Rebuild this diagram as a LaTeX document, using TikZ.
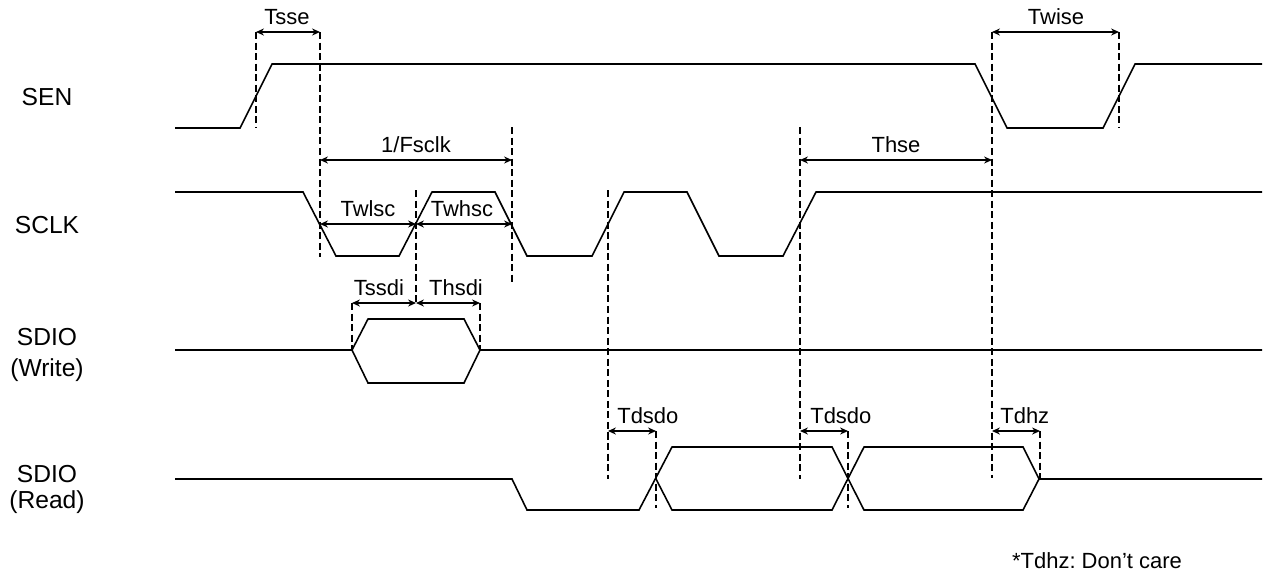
\documentclass[tikz,border=0pt]{standalone}
\usepackage{fontspec}
\setmainfont{Liberation Sans}
\usetikzlibrary{arrows.meta}
\frenchspacing

\begin{document}
\begin{tikzpicture}[x=0.02cm,y=-0.02cm,
	wave/.style={line width=0.9pt,line join=miter},
	guide/.style={line width=0.6pt,dash pattern=on 4pt off 2pt},
	dim/.style={{Stealth[length=4.5pt,width=4pt]}-{Stealth[length=4.5pt,width=4pt]},line width=0.7pt},
	lbl/.style={anchor=base,inner sep=0pt,font=\fontsize{12.5}{14}\selectfont},
	sig/.style={anchor=base,inner sep=0pt,font=\fontsize{14}{17}\selectfont}]

	\useasboundingbox (0,0) rectangle (1266,576);

	% signal names
	\node[sig] (sen) at (47,105) {SEN};
	\node[sig] (sclk) at (47,233) {SCLK};
	\node[sig] (sdiow) at (47,345) {SDIO};
	\node[sig] (sdiow2) at (47,376) {(Write)};
	\node[sig] (sdior) at (47,482) {SDIO};
	\node[sig] (sdior2) at (47,508) {(Read)};

	% waveforms
	\draw[wave] (175,128) -- (240,128) -- (272,64) -- (975,64) -- (1007,128)
		-- (1103,128) -- (1135,64) -- (1262,64);
	\draw[wave] (175,192) -- (303,192) -- (336,256) -- (399,256) -- (432,192)
		-- (495,192) -- (527,256) -- (592,256) -- (624,192) -- (687,192)
		-- (719,256) -- (783,256) -- (816,192) -- (1262,192);
	\draw[wave] (175,350) -- (352,350) -- (368,319) -- (464,319) -- (480,350) -- (1262,350);
	\draw[wave] (352,350) -- (368,383) -- (464,383) -- (480,350);
	\draw[wave] (175,479) -- (512,479) -- (527,510) -- (639,510) -- (672,447)
		-- (832,447) -- (864,510) -- (1023,510) -- (1039,479) -- (1262,479);
	\draw[wave] (656,479) -- (672,510) -- (832,510) -- (864,447) -- (1023,447) -- (1039,479);

	% dashed guides
	\foreach \x/\ya/\yb in {256/32/128, 320/32/257, 416/190/303, 512/127/285,
		608/190/479, 656/431/508, 800/127/479, 848/431/508, 992/32/478,
		1040/431/478, 1119/32/128, 352/303/350, 480/303/350}
		\draw[guide] (\x,\ya) -- (\x,\yb);

	% timing arrows
	\foreach \n/\xa/\xb/\yy in {tsse/256/320/32, twise/992/1119/32, fsclk/320/512/160,
		thse/800/992/160, twlsc/320/416/224, twhsc/416/512/224, tssdi/352/416/303,
		thsdi/416/480/303, tdsdoa/608/656/431, tdsdob/800/848/431, tdhz/992/1040/431}
	{
		\coordinate (\n-l) at (\xa,\yy);
		\coordinate (\n-r) at (\xb,\yy);
		\draw[dim] (\n-l) -- (\n-r);
	}

	% timing labels
	\node[lbl] (l-tsse) at (287,24) {Tsse};
	\node[lbl] (l-twise) at (1056,24) {Twise};
	\node[lbl] (l-fsclk) at (416,152) {1/Fsclk};
	\node[lbl] (l-thse) at (896,152) {Thse};
	\node[lbl] (l-twlsc) at (368,216) {Twlsc};
	\node[lbl] (l-twhsc) at (462,216) {Twhsc};
	\node[lbl] (l-tssdi) at (379,295) {Tssdi};
	\node[lbl] (l-thsdi) at (456,295) {Thsdi};
	\node[lbl,anchor=base west] (l-tdsdoa) at (617,423) {Tdsdo};
	\node[lbl,anchor=base west] (l-tdsdob) at (810,423) {Tdsdo};
	\node[lbl,anchor=base west] (l-tdhz) at (1000,423) {Tdhz};
	\node[lbl] (note) at (1097,568) {*Tdhz: Don’t care};
\end{tikzpicture}
\end{document}
